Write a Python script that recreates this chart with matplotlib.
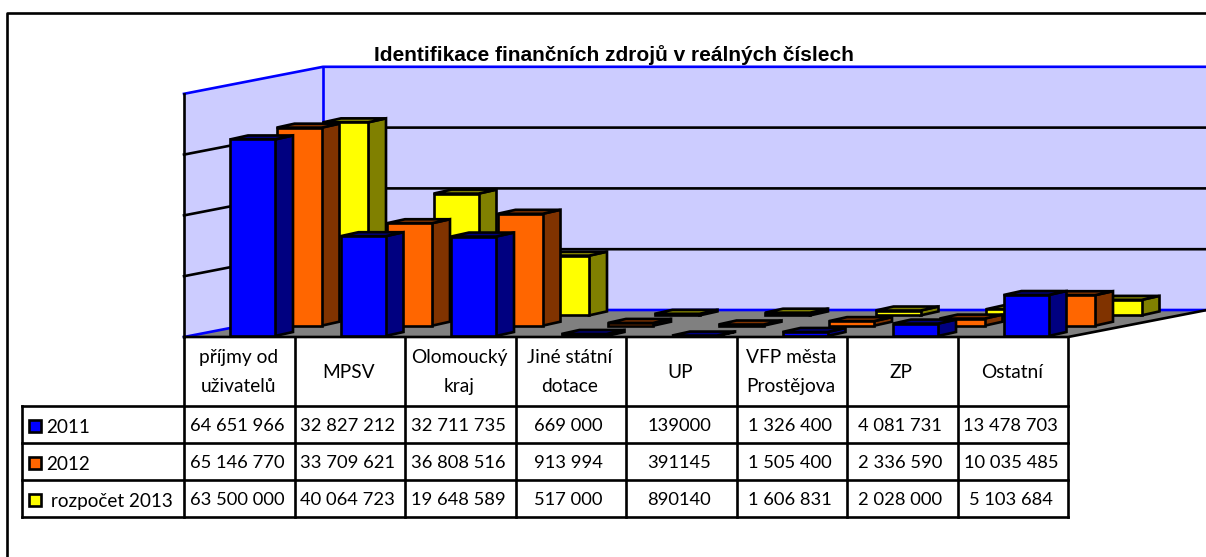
import matplotlib
matplotlib.use('Agg')
import matplotlib.pyplot as plt
from matplotlib.patches import Polygon

# data
categories = ['příjmy od\nuživatelů', 'MPSV', 'Olomoucký\nkraj', 'Jiné státní\ndotace', 'UP',
              'VFP města\nProstějova', 'ZP', 'Ostatní']
series_names = ['2011', '2012', ' rozpočet 2013']
values_2011 = [64651966, 32827212, 32711735, 669000, 139000, 1326400, 4081731, 13478703]
values_2012 = [65146770, 33709621, 36808516, 913994, 391145, 1505400, 2336590, 10035485]
values_2013 = [63500000, 40064723, 19648589, 517000, 890140, 1606831, 2028000, 5103684]
labels_2011 = ['64 651 966', '32 827 212', '32 711 735', '669 000', '139000', '1 326 400', '4 081 731', '13 478 703']
labels_2012 = ['65 146 770', '33 709 621', '36 808 516', '913 994', '391145', '1 505 400', '2 336 590', '10 035 485']
labels_2013 = ['63 500 000', '40 064 723', '19 648 589', '517 000', '890140', '1 606 831', '2 028 000', '5 103 684']
gridticks = [20e6, 40e6, 60e6, 80e6]
title = 'Identifikace finančních zdrojů v reálných číslech'

# geometry of the fake 3D box, in pixels
PX_PER_UNIT = 3.04e-6
X0, COL = 184, 110.5
FLOOR_Y, BACK_Y = 337, 310
DEPTH_X, DEPTH_Y = 139, 27
BAR_W, BAR_DX, BAR_DY = 45, 18, 4
N = len(categories)
X1 = X0 + N * COL
LW = 1.9

faces = [('#0000FF', '#000080'), ('#FF6600', '#803300'), ('#FFFF00', '#808000')]
rows = [values_2011, values_2012, values_2013]
row_labels = [labels_2011, labels_2012, labels_2013]

plt.rcParams['font.family'] = ['Lato', 'DejaVu Sans']
fig = plt.figure(figsize=(12.06, 5.57), dpi=100)
ax = fig.add_axes([0, 0, 1, 1])
ax.set_xlim(0, 1206)
ax.set_ylim(557, 0)
ax.axis('off')


def poly(pts, fc, z):
    ax.add_patch(Polygon(pts, closed=True, fc=fc, ec='black', lw=LW, joinstyle='miter', zorder=z))


def val_y(v, base=FLOOR_Y):
    return base - v * PX_PER_UNIT


# outer frame
ax.plot([7, 7, 1206], [557, 13, 13], color='black', lw=LW, zorder=1)

# walls and floor
top = val_y(gridticks[-1])
ax.add_patch(Polygon([(X0, top), (X0 + DEPTH_X, top - DEPTH_Y), (X0 + DEPTH_X, BACK_Y), (X0, FLOOR_Y)],
                     fc='#CCCCFF', ec='none', zorder=2))
ax.add_patch(Polygon([(X0 + DEPTH_X, top - DEPTH_Y), (X1 + DEPTH_X, top - DEPTH_Y), (X1 + DEPTH_X, BACK_Y),
                      (X0 + DEPTH_X, BACK_Y)], fc='#CCCCFF', ec='none', zorder=2))
ax.add_patch(Polygon([(X0, FLOOR_Y), (X1, FLOOR_Y), (X1 + DEPTH_X, BACK_Y), (X0 + DEPTH_X, BACK_Y)],
                     fc='#808080', ec='none', zorder=2))
for t in gridticks[:-1]:
    y = val_y(t)
    ax.plot([X0, X0 + DEPTH_X, X1 + DEPTH_X], [y, y - DEPTH_Y, y - DEPTH_Y], color='black', lw=LW, zorder=3)
ax.plot([X0, X0 + DEPTH_X, X1 + DEPTH_X], [top, top - DEPTH_Y, top - DEPTH_Y], color='#0000FF', lw=LW, zorder=3)
ax.plot([X0 + DEPTH_X, X0 + DEPTH_X], [top - DEPTH_Y, BACK_Y], color='#0000FF', lw=LW, zorder=3)
ax.plot([X0, X0 + DEPTH_X, X1 + DEPTH_X], [FLOOR_Y, BACK_Y, BACK_Y], color='#0000FF', lw=LW, zorder=3)
ax.plot([X0, X0], [top, FLOOR_Y], color='black', lw=LW, zorder=3)
ax.plot([X0, X1, X1 + DEPTH_X], [FLOOR_Y, FLOOR_Y, BACK_Y], color='black', lw=LW, zorder=3)

# bars, back row first
z = 4
for s in [2, 1, 0]:
    base = FLOOR_Y - 1 - 10.3 * s
    for i, v in enumerate(rows[s]):
        left = X0 + 46 + i * COL + 46.5 * s
        right = left + BAR_W
        ytop = val_y(v, base)
        front, dark = faces[s]
        poly([(right, base), (right + BAR_DX, base - BAR_DY), (right + BAR_DX, ytop - BAR_DY), (right, ytop)], dark, z)
        poly([(left, ytop), (right, ytop), (right + BAR_DX, ytop - BAR_DY), (left + BAR_DX, ytop - BAR_DY)], dark, z)
        poly([(left, base), (right, base), (right, ytop), (left, ytop)], front, z + 0.5)
        z += 1

# table
TZ = 200
table_left = 22
row_y = [406, 443, 480, 517]
for i in range(N + 1):
    ax.plot([X0 + i * COL] * 2, [FLOOR_Y, row_y[-1]], color='black', lw=LW, zorder=TZ)
ax.plot([table_left, table_left], [row_y[0], row_y[-1]], color='black', lw=LW, zorder=TZ)
for y in row_y:
    ax.plot([table_left, X1], [y, y], color='black', lw=LW, zorder=TZ)

for i, name in enumerate(categories):
    ax.text(X0 + (i + 0.5) * COL - 1, 372, name, ha='center', va='center', fontsize=13.8, linespacing=1.88, zorder=TZ)
for r in range(3):
    yc = (row_y[r] + row_y[r + 1]) / 2
    ax.add_patch(Polygon([(29, yc - 5), (41, yc - 5), (41, yc + 7), (29, yc + 7)], fc=faces[r][0], ec='black',
                         lw=LW, zorder=TZ))
    ax.text(46, yc + 3, series_names[r], ha='left', va='center', fontsize=13.6, zorder=TZ)
    for i, lab in enumerate(row_labels[r]):
        ax.text(X0 + (i + 0.5) * COL - 2, yc + 1.5, lab, ha='center', va='center', fontsize=13.2, zorder=TZ)

ax.text(613.5, 55, title, ha='center', va='center', fontsize=15, fontweight='bold',
        family=['Liberation Sans', 'DejaVu Sans'], zorder=TZ)

fig.savefig('out.png', dpi=100)
